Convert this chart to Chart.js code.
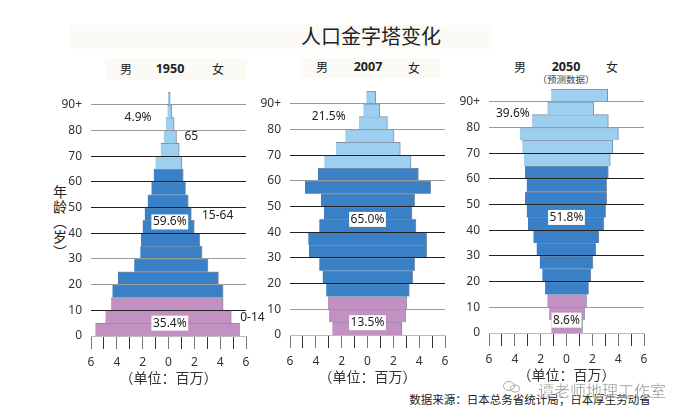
<!DOCTYPE html>
<html>
<head>
<meta charset="utf-8">
<script src="https://cdn.jsdelivr.net/npm/chart.js@4/dist/chart.umd.min.js"></script>
<style>
  body { margin: 0; background: #fff; width: 691px; height: 420px; overflow: hidden; position: relative;
         font-family: "Noto Sans CJK SC", "Noto Sans", sans-serif; color: #222; }
  canvas { position: absolute; }
  .txt { position: absolute; white-space: nowrap; transform: translate(-50%, -50%); line-height: 1; }
  .band { position: absolute; background: #fbfaf4; }
</style>
</head>
<body>
<div class="band" style="left:70px;top:25px;width:422px;height:24px"></div>
<div class="band" style="left:105px;top:58px;width:142px;height:22px"></div>
<div class="band" style="left:300px;top:58px;width:140px;height:20px"></div>
<div class="txt" style="left:371px;top:36px;font-size:20px">人口金字塔变化</div>

<div class="txt" style="left:126px;top:69px;font-size:12px">男</div>
<div class="txt" style="left:170px;top:69px;font-size:12.5px;font-weight:bold;font-family:'Noto Sans'">1950</div>
<div class="txt" style="left:218px;top:69px;font-size:12px">女</div>
<div class="txt" style="left:322px;top:67px;font-size:12px">男</div>
<div class="txt" style="left:368px;top:67px;font-size:12.5px;font-weight:bold;font-family:'Noto Sans'">2007</div>
<div class="txt" style="left:414px;top:68px;font-size:12px">女</div>
<div class="txt" style="left:520px;top:67px;font-size:12px">男</div>
<div class="txt" style="left:566px;top:67px;font-size:12.5px;font-weight:bold;font-family:'Noto Sans'">2050</div>
<div class="txt" style="left:612px;top:67px;font-size:12px">女</div>
<div class="txt" style="left:566px;top:80px;font-size:9.5px;color:#444">（预测数据）</div>

<div class="txt" style="left:60px;top:222px;font-size:14px;writing-mode:vertical-rl;letter-spacing:1px">年龄（岁）</div>

<canvas id="chart1950" width="220" height="298" style="left:55px;top:88px"></canvas>
<canvas id="chart2007" width="220" height="298" style="left:254px;top:87px"></canvas>
<canvas id="chart2050" width="220" height="298" style="left:453px;top:85px"></canvas>

<div class="txt" style="left:530px;top:400px;font-size:11.5px">数据来源：日本总务省统计局；日本厚生劳动省</div>
<div class="txt" style="left:602px;top:390px;font-size:16px;color:rgba(110,110,110,.75);-webkit-text-stroke:.3px #fff">谭老师地理工作室</div>
<svg style="position:absolute;left:502px;top:380px" width="20" height="14" fill="none" stroke="#aaa" stroke-width="1">
  <ellipse cx="7" cy="6" rx="5.5" ry="4.5"/><ellipse cx="13" cy="8.5" rx="4.5" ry="3.5"/>
</svg>

<script>
var ageBands = ["0-4", "5-9", "10-14", "15-19", "20-24", "25-29", "30-34", "35-39", "40-44", "45-49",
  "50-54", "55-59", "60-64", "65-69", "70-74", "75-79", "80-84", "85-89", "90+"];

var male1950 = [5.66, 4.88, 4.44, 4.34, 3.92, 2.65, 2.18, 2.13, 2.0, 1.84, 1.61, 1.32, 1.14, 1.01, 0.6, 0.36, 0.21, 0.08, 0.04];
var female1950 = [5.5, 4.86, 4.23, 4.23, 3.87, 3.06, 2.6, 2.42, 2.0, 1.77, 1.53, 1.32, 1.14, 1.04, 0.83, 0.62, 0.44, 0.26, 0.13];

var male2007 = [2.72, 2.98, 3.06, 3.19, 3.47, 3.73, 4.53, 4.58, 3.73, 3.37, 3.6, 4.84, 3.83, 3.34, 2.44, 1.72, 0.66, 0.32, 0.09];
var female2007 = [2.67, 2.95, 3.03, 3.24, 3.5, 3.65, 4.58, 4.58, 3.75, 3.45, 3.65, 4.89, 3.94, 3.37, 2.54, 2.05, 1.54, 0.94, 0.63];

var male2050 = [1.17, 1.35, 1.48, 1.66, 1.87, 2.07, 2.31, 2.56, 2.98, 3.08, 3.21, 3.08, 3.21, 3.29, 3.42, 3.6, 2.67, 1.48, 1.19];
var female2050 = [1.24, 1.4, 1.55, 1.71, 1.89, 2.05, 2.28, 2.51, 2.9, 3.03, 3.11, 3.11, 3.24, 3.39, 3.58, 4.02, 3.24, 2.1, 3.19];

// x (millions), y (age), text, white box or not
var notes1950 = [[-2.36, 85, "4.9%", false], [1.77, 77.5, "65", false], [0.1, 44.4, "59.6%", true],
  [3.8, 46.7, "15-64", false], [0.1, 5, "35.4%", true], [6.5, 7.1, "0-14", false]];
var notes2007 = [[-3.0, 85, "21.5%", false], [0, 45, "65.0%", true], [0, 4.8, "13.5%", true]];
var notes2050 = [[-4.15, 85.3, "39.6%", false], [0, 45, "51.8%", true], [0, 5, "8.6%", true]];

var notesPlugin = {
  id: "notes",
  afterDraw(chart, args, opts) {
    const { ctx, scales } = chart;
    ctx.save();
    ctx.font = "12px 'Noto Sans'";
    ctx.textAlign = "center";
    ctx.textBaseline = "middle";
    opts.items.forEach(([x, y, text, box]) => {
      const px = scales.x.getPixelForValue(x);
      const py = scales.age.getPixelForValue(y);
      if (box) {
        const w = ctx.measureText(text).width + 3;
        ctx.fillStyle = "#fff";
        ctx.fillRect(px - w / 2, py - 7.5, w, 15);
      }
      ctx.fillStyle = "#222";
      ctx.fillText(text, px, py);
    });
    ctx.restore();
  }
};

function bandColor(context) {
  if (context.dataIndex < 3) return "#c391c1";
  if (context.dataIndex < 13) return "#3a80c6";
  return "#9dd0f0";
}

function drawPyramid(id, males, females, notes, lightLines) {
  new Chart(id, {
    type: "bar",
    plugins: [notesPlugin],
    data: {
      labels: ageBands,
      datasets: [{
        data: males.map((m, i) => [-m, females[i]]),
        backgroundColor: bandColor,
        borderColor: "rgba(25,50,90,.55)",
        borderWidth: { top: 1, bottom: 0, left: 0, right: 1 },
        borderSkipped: false,
        barPercentage: 1,
        categoryPercentage: 1
      }]
    },
    options: {
      indexAxis: "y",
      responsive: false,
      animation: false,
      layout: { padding: { top: 4, right: 29, bottom: 0, left: 0 } },
      plugins: {
        legend: { display: false },
        tooltip: { enabled: false },
        notes: { items: notes }
      },
      scales: {
        y: { display: false, reverse: true, offset: true },
        age: {
          type: "linear",
          position: "left",
          min: 0,
          max: 95,
          offset: false,
          afterFit: (scale) => { scale.width = 36; scale.paddingTop = 0; scale.paddingBottom = 0; },
          ticks: {
            stepSize: 10,
            autoSkip: false,
            includeBounds: false,
            padding: 9,
            color: "#333",
            font: { family: "Noto Sans", size: 12 },
            callback: (v) => (v === 90 ? "90+" : v)
          },
          border: { display: false },
          grid: {
            z: 1,
            offset: false,
            drawTicks: false,
            lineWidth: (c) => (c.tick && c.tick.value > 0 ? 1 : 0),
            color: (c) => (c.tick && lightLines.includes(c.tick.value) ? "#999" : "#222")
          }
        },
        x: {
          min: -6,
          max: 6,
          afterFit: (scale) => { scale.height = 50; scale.paddingLeft = 0; scale.paddingRight = 0; },
          ticks: {
            stepSize: 1,
            autoSkip: false,
            maxRotation: 0,
            padding: 6,
            color: "#333",
            font: { family: "Noto Sans", size: 12 },
            callback: (v) => (v % 2 ? "" : Math.abs(v))
          },
          border: { display: true, color: "#bbb" },
          grid: {
            drawOnChartArea: false,
            tickLength: 13,
            tickColor: (c) => (c.tick && c.tick.value % 2 ? "#333" : "#777")
          },
          title: {
            display: true,
            text: "（单位：百万）",
            color: "#333",
            padding: 0,
            font: { family: "Noto Sans CJK SC", size: 14 }
          }
        }
      }
    }
  });
}

drawPyramid("chart1950", male1950, female1950, notes1950, [90, 80, 30, 20]);
drawPyramid("chart2007", male2007, female2007, notes2007, [90, 80, 60, 10]);
drawPyramid("chart2050", male2050, female2050, notes2050, [90, 80, 10]);
</script>
</body>
</html>
